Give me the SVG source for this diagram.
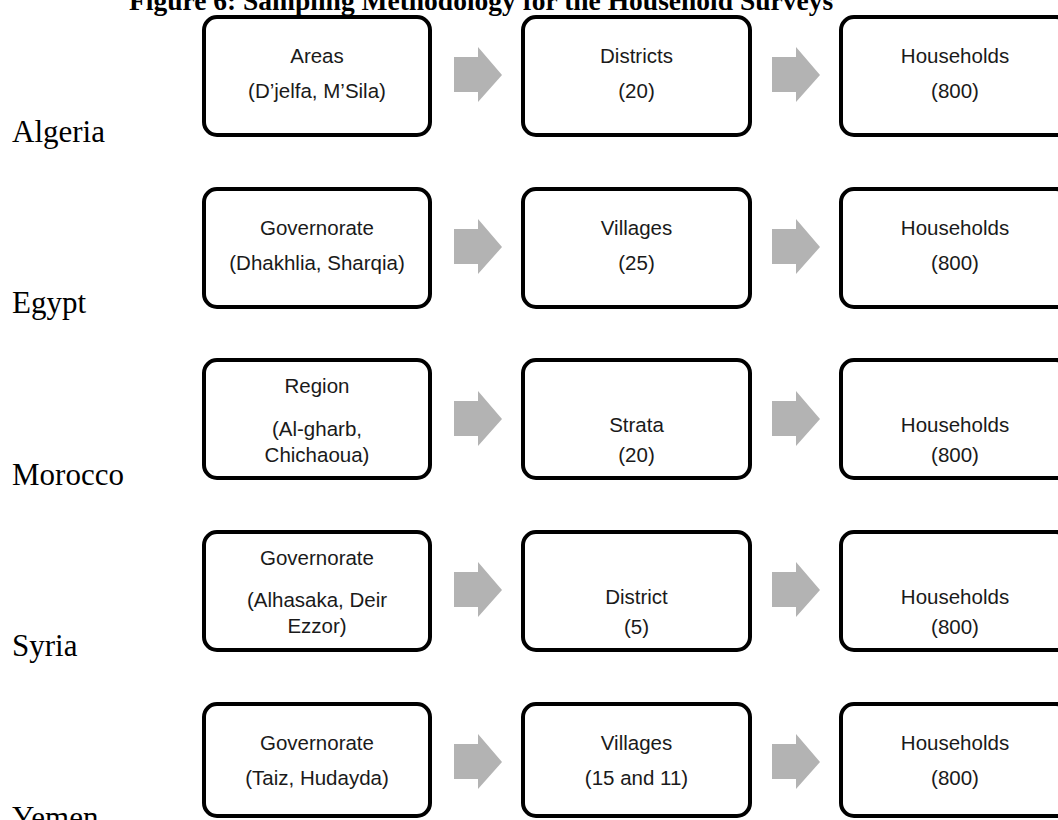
<svg xmlns="http://www.w3.org/2000/svg" width="1058" height="820" viewBox="0 0 1058 820">
<style>
.box{fill:#ffffff;stroke:#000000;stroke-width:4}
.t{font-family:"Liberation Sans",Arial,sans-serif;font-size:20.5px;fill:#1a1a1a;text-anchor:middle}
.c{font-family:"Liberation Serif","Times New Roman",serif;font-size:31px;fill:#000000}
.title{font-family:"Liberation Serif","Times New Roman",serif;font-size:27.5px;font-weight:bold;fill:#000000}
.arr{fill:#b3b3b3}
</style>
<defs>
<polygon id="arrow" points="0,-18 24,-18 24,-28 48,0 24,27 24,17 0,17"/>
</defs>
<rect width="1058" height="820" fill="#ffffff"/>
<text class="title" x="129" y="10">Figure 6: Sampling Methodology for the Household Surveys</text>

<g id="labels">
<text class="c" x="12" y="142">Algeria</text>
<text class="c" x="12" y="313">Egypt</text>
<text class="c" x="12" y="485">Morocco</text>
<text class="c" x="12" y="656">Syria</text>
<text class="c" x="12" y="828">Yemen</text>
</g>

<g id="connectors" class="arr">
<use href="#arrow" x="454" y="75"/>
<use href="#arrow" x="772" y="75"/>
<use href="#arrow" x="454" y="247"/>
<use href="#arrow" x="772" y="247"/>
<use href="#arrow" x="454" y="419"/>
<use href="#arrow" x="772" y="419"/>
<use href="#arrow" x="454" y="590"/>
<use href="#arrow" x="772" y="590"/>
<use href="#arrow" x="454" y="762"/>
<use href="#arrow" x="772" y="762"/>
</g>

<g id="algeria-areas"><rect class="box" x="204" y="17" width="226" height="118" rx="13"/><text class="t" x="317" y="63">Areas</text><text class="t" x="317" y="98">(D’jelfa, M’Sila)</text></g>
<g id="algeria-districts"><rect class="box" x="523" y="17" width="227" height="118" rx="13"/><text class="t" x="636.5" y="63">Districts</text><text class="t" x="636.5" y="98">(20)</text></g>
<g id="algeria-households"><rect class="box" x="841" y="17" width="228" height="118" rx="13"/><text class="t" x="955" y="63">Households</text><text class="t" x="955" y="98">(800)</text></g>

<g id="egypt-governorate"><rect class="box" x="204" y="189" width="226" height="118" rx="13"/><text class="t" x="317" y="235">Governorate</text><text class="t" x="317" y="270">(Dhakhlia, Sharqia)</text></g>
<g id="egypt-villages"><rect class="box" x="523" y="189" width="227" height="118" rx="13"/><text class="t" x="636.5" y="235">Villages</text><text class="t" x="636.5" y="270">(25)</text></g>
<g id="egypt-households"><rect class="box" x="841" y="189" width="228" height="118" rx="13"/><text class="t" x="955" y="235">Households</text><text class="t" x="955" y="270">(800)</text></g>

<g id="morocco-region"><rect class="box" x="204" y="360" width="226" height="118" rx="13"/><text class="t" x="317" y="393">Region</text><text class="t" x="317" y="436">(Al-gharb,</text><text class="t" x="317" y="462">Chichaoua)</text></g>
<g id="morocco-strata"><rect class="box" x="523" y="360" width="227" height="118" rx="13"/><text class="t" x="636.5" y="432">Strata</text><text class="t" x="636.5" y="462">(20)</text></g>
<g id="morocco-households"><rect class="box" x="841" y="360" width="228" height="118" rx="13"/><text class="t" x="955" y="432">Households</text><text class="t" x="955" y="462">(800)</text></g>

<g id="syria-governorate"><rect class="box" x="204" y="532" width="226" height="118" rx="13"/><text class="t" x="317" y="565">Governorate</text><text class="t" x="317" y="607">(Alhasaka, Deir</text><text class="t" x="317" y="633">Ezzor)</text></g>
<g id="syria-district"><rect class="box" x="523" y="532" width="227" height="118" rx="13"/><text class="t" x="636.5" y="604">District</text><text class="t" x="636.5" y="634">(5)</text></g>
<g id="syria-households"><rect class="box" x="841" y="532" width="228" height="118" rx="13"/><text class="t" x="955" y="604">Households</text><text class="t" x="955" y="634">(800)</text></g>

<g id="yemen-governorate"><rect class="box" x="204" y="704" width="226" height="112" rx="13"/><text class="t" x="317" y="750">Governorate</text><text class="t" x="317" y="785">(Taiz, Hudayda)</text></g>
<g id="yemen-villages"><rect class="box" x="523" y="704" width="227" height="112" rx="13"/><text class="t" x="636.5" y="750">Villages</text><text class="t" x="636.5" y="785">(15 and 11)</text></g>
<g id="yemen-households"><rect class="box" x="841" y="704" width="228" height="112" rx="13"/><text class="t" x="955" y="750">Households</text><text class="t" x="955" y="785">(800)</text></g>
</svg>
